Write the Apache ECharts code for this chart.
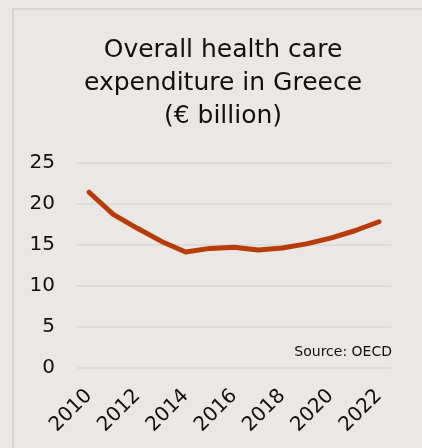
<!DOCTYPE html>
<html>
<head>
<meta charset="utf-8">
<script src="https://cdn.jsdelivr.net/npm/echarts@6/dist/echarts.min.js"></script>
<style>
  html, body { margin: 0; padding: 0; background: #EAE7E4; }
  #chart { width: 422px; height: 448px; }
</style>
</head>
<body>
<div id="chart"></div>
<script>
// Health care expenditure in Greece, € billion (OECD)
const years = ['2010', '2011', '2012', '2013', '2014', '2015', '2016',
               '2017', '2018', '2019', '2020', '2021', '2022'];
const expenditure = [21.4, 18.7, 17.0, 15.4, 14.1, 14.55, 14.7,
                     14.35, 14.6, 15.1, 15.8, 16.7, 17.8];
const titleLines = ['Overall health care', 'expenditure in Greece', '(€ billion)'];
const sourceText = 'Source: OECD';

const FONT = 'DejaVu Sans';
const chart = echarts.init(document.getElementById('chart'), null, { renderer: 'canvas' });

chart.setOption({
  backgroundColor: '#EAE7E4',
  animation: false,
  textStyle: { fontFamily: FONT },
  title: {
    text: titleLines.join('\n'),
    left: 218,
    top: 29,
    textAlign: 'center',
    textStyle: {
      fontFamily: FONT,
      fontSize: 25,
      fontWeight: 'normal',
      color: '#111111',
      lineHeight: 33
    }
  },
  graphic: [
    {
      type: 'rect',
      shape: { x: 13, y: 9, width: 420, height: 450 },
      style: { fill: 'none', stroke: '#D6D6D6', lineWidth: 2 },
      silent: true,
      z: -1
    },
    {
      type: 'text',
      right: 30,
      top: 345,
      style: {
        text: sourceText,
        fontFamily: FONT,
        fontSize: 14,
        fill: '#111111'
      }
    }
  ],
  grid: { left: 77, right: 31, top: 162.7, bottom: 80.3, containLabel: false },
  xAxis: {
    type: 'category',
    data: years,
    boundaryGap: true,
    axisLine: { show: false },
    axisTick: { show: false },
    axisLabel: {
      interval: 1,
      rotate: 45,
      margin: 25,
      fontFamily: FONT,
      fontSize: 20,
      color: '#111111'
    }
  },
  yAxis: {
    type: 'value',
    min: 0,
    max: 25,
    interval: 5,
    axisLine: { show: false },
    axisTick: { show: false },
    axisLabel: {
      margin: 22,
      fontFamily: FONT,
      fontSize: 20,
      color: '#111111'
    },
    splitLine: { lineStyle: { color: '#D9D9D9', width: 1.5 } }
  },
  series: [{
    type: 'line',
    data: expenditure,
    showSymbol: false,
    smooth: false,
    lineStyle: { color: '#B83C0A', width: 5, cap: 'round', join: 'round' }
  }]
});
</script>
</body>
</html>
